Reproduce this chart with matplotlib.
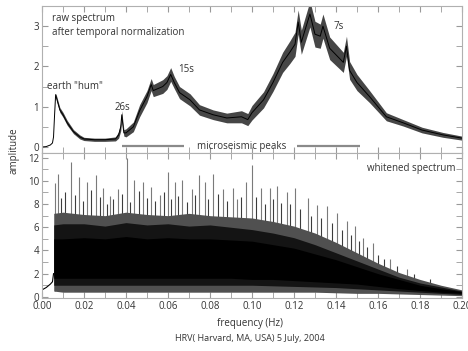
import numpy as np
import matplotlib
matplotlib.use('Agg')
from matplotlib import pyplot as plt
from matplotlib.ticker import MultipleLocator, FormatStrFormatter

plt.rcParams['font.family'] = ['Open Sans', 'DejaVu Sans']

# raw spectrum (after temporal normalization): centre curve and noise half-width
raw_freq = [0.000, 0.002, 0.004, 0.005, 0.0055, 0.006, 0.0065, 0.007, 0.0085, 0.010,
            0.012, 0.015, 0.018, 0.020, 0.025, 0.030, 0.035, 0.0365, 0.0375, 0.038,
            0.0385, 0.039, 0.040, 0.0435, 0.0465, 0.050, 0.052, 0.053, 0.0575, 0.0595,
            0.0613, 0.063, 0.0655, 0.0705, 0.075, 0.0815, 0.088, 0.095, 0.098, 0.100,
            0.1055, 0.110, 0.1146, 0.118, 0.1205, 0.122, 0.1235, 0.1276, 0.130, 0.1325,
            0.1338, 0.137, 0.1435, 0.145, 0.1465, 0.150, 0.156, 0.164, 0.172, 0.181,
            0.191, 0.200]
raw_amp = [0.0, 0.01, 0.05, 0.1, 0.25, 0.8, 1.3, 1.2, 0.92, 0.8,
           0.6, 0.38, 0.25, 0.2, 0.18, 0.18, 0.2, 0.3, 0.5, 0.8,
           0.55, 0.35, 0.35, 0.5, 0.9, 1.25, 1.55, 1.4, 1.5, 1.6,
           1.8, 1.6, 1.35, 1.17, 0.92, 0.8, 0.72, 0.75, 0.68, 0.85,
           1.17, 1.6, 2.1, 2.35, 2.55, 3.1, 2.6, 3.3, 2.8, 2.75,
           3.0, 2.45, 2.1, 2.5, 1.9, 1.6, 1.25, 0.75, 0.6, 0.42,
           0.3, 0.22]
raw_noise = [0.0, 0.0, 0.0, 0.0, 0.0, 0.0, 0.03, 0.06, 0.06, 0.06,
             0.06, 0.05, 0.05, 0.04, 0.04, 0.04, 0.05, 0.08, 0.1, 0.1,
             0.1, 0.08, 0.1, 0.12, 0.15, 0.15, 0.15, 0.15, 0.17, 0.17,
             0.17, 0.15, 0.15, 0.15, 0.13, 0.12, 0.12, 0.15, 0.15, 0.18,
             0.2, 0.22, 0.25, 0.28, 0.3, 0.3, 0.3, 0.32, 0.32, 0.3,
             0.3, 0.28, 0.25, 0.25, 0.22, 0.2, 0.15, 0.1, 0.08, 0.07,
             0.06, 0.05]

# whitened spectrum: smooth onset, then layered noise envelopes
pre_freq = [0.000, 0.002, 0.004, 0.005, 0.0055]
pre_amp = [0.6, 0.8, 1.1, 1.3, 2.0]

wh_freq = [0.0056, 0.01, 0.02, 0.03, 0.04, 0.05, 0.06, 0.07, 0.08, 0.09, 0.10,
           0.11, 0.12, 0.13, 0.14, 0.15, 0.16, 0.17, 0.18, 0.19, 0.20]
wh_lo2 = [0.5, 0.4, 0.4, 0.4, 0.4, 0.4, 0.4, 0.4, 0.4, 0.4, 0.4,
          0.4, 0.4, 0.4, 0.35, 0.3, 0.3, 0.25, 0.2, 0.15, 0.1]
wh_lo1 = [1.0, 1.0, 1.0, 1.0, 1.0, 1.0, 1.0, 1.0, 1.0, 1.0, 1.0,
          0.95, 0.9, 0.85, 0.8, 0.7, 0.6, 0.5, 0.4, 0.3, 0.2]
wh_lo0 = [1.6, 1.6, 1.6, 1.6, 1.6, 1.6, 1.6, 1.6, 1.6, 1.6, 1.5,
          1.5, 1.4, 1.3, 1.2, 1.1, 0.9, 0.7, 0.55, 0.4, 0.3]
wh_hi0 = [5.0, 5.0, 5.1, 5.0, 5.2, 5.0, 5.1, 5.0, 5.0, 4.9, 4.8,
          4.5, 4.2, 3.7, 3.2, 2.6, 2.0, 1.5, 1.0, 0.7, 0.45]
wh_hi1 = [6.2, 6.3, 6.3, 6.1, 6.4, 6.2, 6.3, 6.1, 6.2, 6.0, 5.8,
          5.5, 5.1, 4.5, 3.8, 3.1, 2.4, 1.7, 1.2, 0.85, 0.5]
wh_hi2 = [7.2, 7.3, 7.1, 7.0, 7.3, 7.1, 7.0, 7.2, 7.0, 6.9, 6.8,
          6.5, 6.1, 5.5, 4.7, 3.8, 2.9, 2.1, 1.5, 1.0, 0.6]

# tallest individual spikes of the whitened spectrum
spike_freq = [0.0062, 0.0078, 0.0137, 0.0178, 0.0216, 0.0257, 0.0292, 0.0324, 0.0363,
              0.0403, 0.0438, 0.0483, 0.052, 0.0562, 0.0598, 0.0633, 0.0665, 0.0713,
              0.0749, 0.0776, 0.0816, 0.0863, 0.091, 0.0927, 0.0971, 0.0999, 0.1045,
              0.1084, 0.1117, 0.1165, 0.1205, 0.1268, 0.1309, 0.1356, 0.1403, 0.1451,
              0.149, 0.153, 0.1578, 0.1657, 0.1737]
spike_amp = [9.8, 10.6, 11.6, 10.3, 9.9, 10.5, 9.4, 8.7, 9.3,
             12.0, 10.1, 9.9, 9.5, 8.8, 10.8, 9.9, 10.1, 9.3,
             10.5, 9.9, 10.6, 9.3, 9.4, 8.4, 9.9, 11.4, 9.4,
             9.4, 9.6, 9.0, 9.4, 8.5, 7.9, 7.8, 7.2, 6.5,
             6.1, 5.1, 4.6, 3.3, 2.4]

# second rank of spikes filling the band between the tall ones
mid_freq = [0.009, 0.011, 0.0155, 0.0195, 0.0235, 0.0275, 0.031, 0.034, 0.038,
            0.042, 0.046, 0.050, 0.054, 0.058, 0.0615, 0.065, 0.069, 0.073,
            0.079, 0.084, 0.088, 0.095, 0.102, 0.106, 0.110, 0.114, 0.118,
            0.123, 0.128, 0.133, 0.138, 0.143, 0.147, 0.151, 0.155, 0.160,
            0.163, 0.169, 0.177, 0.185]
mid_amp = [8.5, 9.0, 8.8, 8.3, 9.2, 8.6, 8.0, 8.4, 8.9,
           8.2, 9.1, 8.5, 8.3, 9.0, 8.4, 8.7, 8.2, 8.8,
           8.4, 8.9, 8.3, 8.6, 8.6, 8.0, 8.4, 8.1, 8.0,
           7.6, 7.0, 6.8, 6.4, 5.8, 5.3, 4.8, 4.3, 3.6,
           3.3, 2.7, 2.0, 1.5]

# labelled period peaks and the microseismic band markers
peak_labels = ['26s', '15s', '7s']
peak_freq = [0.0385, 0.0685, 0.1415]
peak_amp = [0.97, 1.92, 3.0]
micro_bars = [(0.038, 0.0676), (0.1213, 0.1514)]

spine_col = '#b0b0b0'
text_col = '#333333'

fig = plt.figure(figsize=(4.68, 3.51), dpi=100)
ax1 = fig.add_axes([0.0897, 0.564, 0.8974, 0.419])
ax2 = fig.add_axes([0.0897, 0.151, 0.8974, 0.413])

# upper panel
f = np.array(raw_freq)
a = np.array(raw_amp)
w = np.array(raw_noise)
ax1.fill_between(f, a - w, a + w, color='#262626', lw=0, alpha=0.85)
ax1.plot(f, a, color='black', lw=0.7)

ax1.text(0.005, 3.2, 'raw spectrum', fontsize=7, color=text_col, va='center')
ax1.text(0.005, 2.85, 'after temporal normalization', fontsize=7, color=text_col, va='center')
ax1.text(0.0024, 1.5, 'earth "hum"', fontsize=7, color=text_col, va='center')
for lab, pf, pa in zip(peak_labels, peak_freq, peak_amp):
    ax1.text(pf, pa, lab, fontsize=7, color=text_col, ha='center', va='center')
for x0, x1 in micro_bars:
    ax1.plot([x0, x1], [0.02, 0.02], color='#8a8a8a', lw=1.6, solid_capstyle='butt')
ax1.text(0.095, 0.02, 'microseismic peaks', fontsize=7, color=text_col,
         ha='center', va='center')

ax1.set_ylim(-0.15, 3.5)
ax1.yaxis.set_major_locator(MultipleLocator(1))
ax1.yaxis.set_minor_locator(MultipleLocator(0.5))
ax1.tick_params(axis='x', labelbottom=False)

# lower panel: spikes first, the dense band is drawn over their feet
ax2.vlines(spike_freq, 0.5, spike_amp, color='#7a7a7a', lw=0.8, zorder=1)
ax2.vlines(mid_freq, 0.5, mid_amp, color='#3c3c3c', lw=0.8, zorder=1)
ax2.plot(pre_freq, pre_amp, color='black', lw=0.8, zorder=2)
ax2.fill_between(wh_freq, wh_lo2, wh_hi2, color='#505050', lw=0, zorder=2)
ax2.fill_between(wh_freq, wh_lo1, wh_hi1, color='#141414', lw=0, zorder=2)
ax2.fill_between(wh_freq, wh_lo0, wh_hi0, color='black', lw=0, zorder=2)
ax2.text(0.1967, 11.1, 'whitened spectrum', fontsize=7, color=text_col,
         ha='right', va='center')

ax2.set_ylim(-0.1, 12.4)
ax2.yaxis.set_major_locator(MultipleLocator(2))
ax2.yaxis.set_minor_locator(MultipleLocator(1))
ax2.xaxis.set_major_formatter(FormatStrFormatter('%.2f'))

for ax in (ax1, ax2):
    ax.set_xlim(0, 0.2)
    ax.xaxis.set_major_locator(MultipleLocator(0.02))
    ax.xaxis.set_minor_locator(MultipleLocator(0.01))
    for s in ax.spines.values():
        s.set_color(spine_col)
        s.set_linewidth(0.8)
    ax.tick_params(which='both', direction='in', top=True, right=True,
                   color='#999999', labelsize=7, labelcolor=text_col, pad=2)
    ax.tick_params(which='both', length=4)

fig.text(0.03, 0.57, 'amplitude', rotation=90, fontsize=7, color=text_col,
         ha='center', va='center')
fig.text(0.534, 0.077, 'frequency (Hz)', fontsize=7, color=text_col, ha='center', va='center')
fig.text(0.534, 0.037, 'HRV( Harvard, MA, USA) 5 July, 2004', fontsize=6.5,
         color=text_col, ha='center', va='center')

fig.savefig('out.png', dpi=100)
